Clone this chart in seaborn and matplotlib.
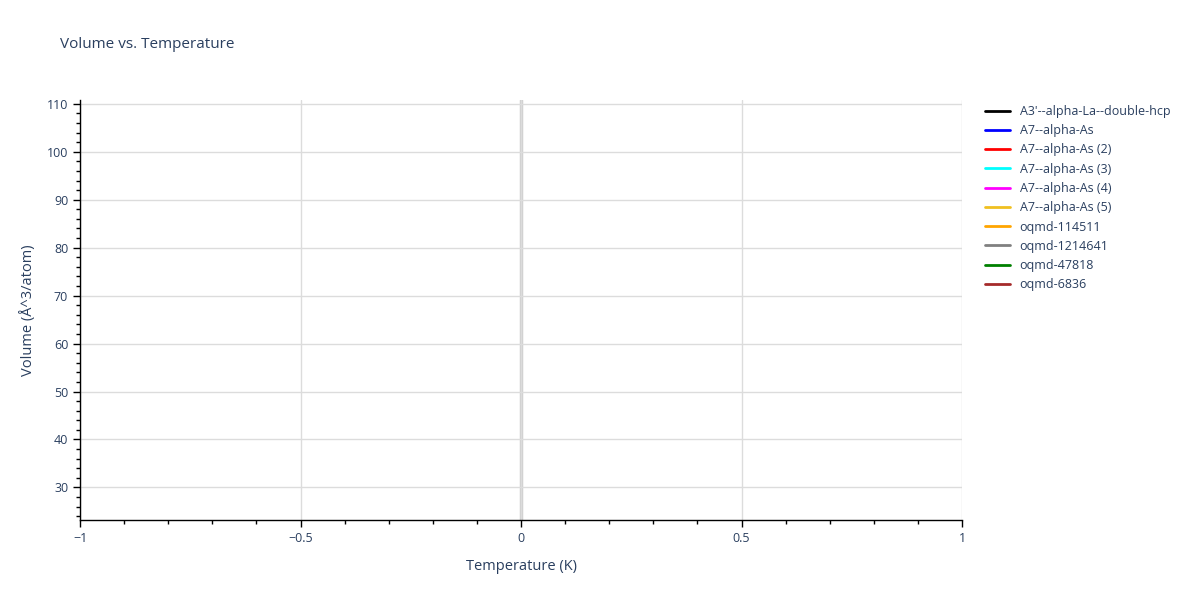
import pandas as pd
import matplotlib.pyplot as plt
import seaborn as sns
from matplotlib.ticker import MultipleLocator

# Each structure only has a single point at T = 0 K, so no line shows up
names = [
    "A3'--alpha-La--double-hcp",
    "A7--alpha-As",
    "A7--alpha-As (2)",
    "A7--alpha-As (3)",
    "A7--alpha-As (4)",
    "A7--alpha-As (5)",
    "oqmd-114511",
    "oqmd-1214641",
    "oqmd-47818",
    "oqmd-6836",
]
colors = ["black", "blue", "red", "cyan", "magenta", "#f0c020",
          "orange", "gray", "green", "brown"]
temps = [0, 0, 0, 0, 0, 0, 0, 0, 0, 0]
volumes = [107.0, 28.0, 28.5, 29.0, 27.5, 28.2, 30.0, 35.0, 27.0, 45.0]

df = pd.DataFrame({"structure": names, "T": temps, "V": volumes})

sns.set_style("white")
plt.rcParams["font.family"] = ["Open Sans", "DejaVu Sans"]
text_col = "#2a3f5f"

fig, ax = plt.subplots(figsize=(12, 6), dpi=100)
fig.subplots_adjust(left=80 / 1200, right=962 / 1200, top=1 - 100 / 600, bottom=1 - 520 / 600)

sns.lineplot(data=df, x="T", y="V", hue="structure", hue_order=names,
             palette=dict(zip(names, colors)), ax=ax, linewidth=2)

ax.set_xlim(-1, 1)
ax.set_ylim(23.2, 110.8)
ax.xaxis.set_minor_locator(MultipleLocator(0.1))
ax.yaxis.set_major_locator(MultipleLocator(10))
ax.yaxis.set_minor_locator(MultipleLocator(2))
ax.set_xticks([-1, -0.5, 0, 0.5, 1])
ax.set_xticklabels(["\u22121", "\u22120.5", "0", "0.5", "1"])

ax.grid(True, which="major", color="#dcdcdc", linewidth=1)
ax.axvline(0, color="#d0d0d0", linewidth=2.5, zorder=0)
ax.set_axisbelow(True)

for side in ["top", "right"]:
    ax.spines[side].set_visible(False)
for side in ["left", "bottom"]:
    ax.spines[side].set_color("black")
    ax.spines[side].set_linewidth(1)

ax.tick_params(axis="both", which="major", direction="out", length=5, width=1,
               color="black", labelcolor=text_col, labelsize=9,
               bottom=True, left=True)
ax.tick_params(axis="both", which="minor", direction="out", length=3, width=1,
               color="black", bottom=True, left=True)

ax.set_xlabel("Temperature (K)", color=text_col, fontsize=10.5, labelpad=10)
ax.set_ylabel("Volume (Å^3/atom)", color=text_col, fontsize=10.5, labelpad=8)
fig.text(60 / 1200, 1 - 45 / 600, "Volume vs. Temperature", color=text_col,
         fontsize=11, va="center")

leg = ax.legend(loc="upper left", bbox_to_anchor=(1.02, 1.0), frameon=False,
                fontsize=9, labelcolor=text_col, handlelength=2,
                labelspacing=0.5, borderaxespad=0)
for line in leg.get_lines():
    line.set_linewidth(2)

fig.savefig("out.png", dpi=100)
